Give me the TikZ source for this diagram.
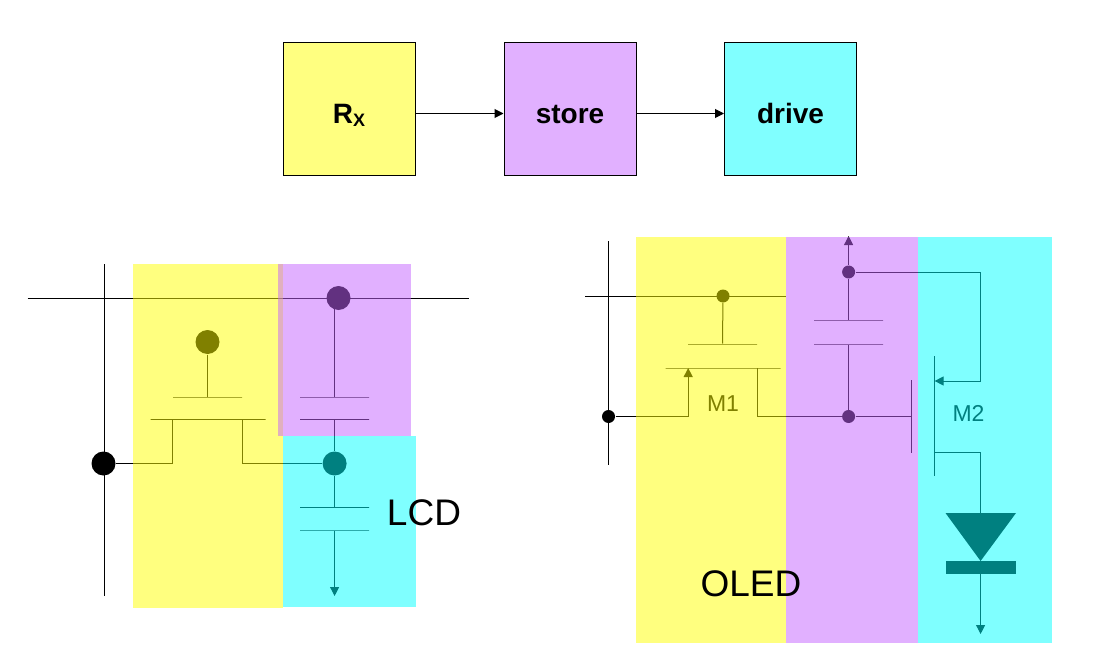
\documentclass[tikz,border=0pt]{standalone}
\usepackage{fontspec}
\setmainfont{Liberation Sans}
\usetikzlibrary{arrows.meta}
\definecolor{rxcol}{HTML}{FFFF00}
\definecolor{storecol}{HTML}{C462FF}
\definecolor{drivecol}{HTML}{00FFFF}
\begin{document}
\begin{tikzpicture}[x=1pt,y=-1pt,line width=1pt,>={Triangle[length=9pt,width=9pt]}]
	% `stage' is used for the three blocks on top, `tint' for the boxes laid over the circuits.
	\tikzstyle{stage} = [draw,minimum size=132pt,inner sep=0pt,text height=28pt,text depth=0pt,font=\fontsize{28}{28}\selectfont\bfseries]
	\tikzstyle{tint} = [opacity=0.5]
	\tikzstyle{bigdot} = [draw=none,fill,shape=circle,minimum size=24pt,inner sep=0pt]
	\tikzstyle{smalldot} = [draw=none,fill,shape=circle,minimum size=13pt,inner sep=0pt]
	\tikzstyle{plate} = [draw,minimum width=69pt,minimum height=0pt,inner sep=0pt]
	\tikzstyle{channel} = [draw,minimum width=115pt,minimum height=0pt,inner sep=0pt]
	\tikzstyle{big} = [anchor=base,font=\fontsize{37}{37}\selectfont]
	\tikzstyle{small} = [anchor=base,font=\fontsize{23}{23}\selectfont]
	\useasboundingbox (0,0) rectangle (1104,661);
	%
	% Blocks on top.
	\node[stage,fill=rxcol!50] (rx) at (349,109) {R\raisebox{-4pt}{\fontsize{18}{18}\selectfont X}};
	\node[stage,fill=storecol!50] (store) at (570,109) {store};
	\node[stage,fill=drivecol!50] (drive) at (790.5,109) {drive};
	\draw[->] ([yshift=-4.5pt]rx.east) -- ([yshift=-4.5pt]store.west);
	\draw[->] ([yshift=-4.5pt]store.east) -- ([yshift=-4.5pt]drive.west);
	%
	% LCD pixel.
	\coordinate (lcdcolT) at (104.6,264);
	\coordinate (lcdcolB) at (104.6,596);
	\coordinate (lcdrowL) at (27.5,298);
	\coordinate (lcdrowR) at (468.5,298);
	\coordinate (lcdcap) at (334.6,298);
	\coordinate (lcdgnd) at (334.6,596);
	\node[bigdot] (lcdrow) at (338.5,298) {};
	\node[bigdot] (lcdgate) at (207.5,342) {};
	\node[bigdot] (lcddata) at (103.5,463.5) {};
	\node[bigdot] (lcdpix) at (334.6,463.5) {};
	\node[plate] (lcdg) at (207.5,397) {};
	\node[channel] (lcdch) at (208,419.5) {};
	\node[plate] (cs1) at (334.6,397) {};
	\node[plate] (cs2) at (334.6,419.5) {};
	\node[plate] (clc1) at (334.6,507.5) {};
	\node[plate] (clc2) at (334.6,530) {};
	\coordinate (lcdS) at (172.6,419.5);
	\coordinate (lcdD) at (242.2,419.5);
	\draw (lcdcolT) -- (lcdcolB)  (lcdrowL) -- (lcdrowR);
	\draw (lcdgate) -- (lcdg);
	\draw (lcddata) -| (lcdS);
	\draw (lcdD) |- (lcdpix);
	\draw (lcdcap) -- (cs1)  (cs2) -- (lcdpix) -- (clc1);
	\draw[->] (clc2) -- (lcdgnd);
	%
	% OLED pixel.
	\coordinate (oledcolT) at (608.5,241);
	\coordinate (oledcolB) at (608.5,465);
	\coordinate (oledrowL) at (585,296);
	\coordinate (oledrowR) at (785.5,296);
	\coordinate (oledtop) at (848.6,236);
	\coordinate (m2gT) at (911.6,380);
	\coordinate (m2gB) at (911.6,453);
	\coordinate (m2T) at (934.6,356);
	\coordinate (m2B) at (934.6,476);
	\coordinate (m2S) at (934.6,381);
	\coordinate (m2D) at (934.6,452);
	\coordinate (m2gate) at (911.6,416.5);
	\coordinate (oledA) at (980.6,513);
	\coordinate (oledK) at (980.6,574);
	\coordinate (oledgnd) at (980.6,634);
	\coordinate (m1S) at (688.2,368);
	\coordinate (m1D) at (757.3,368);
	\node[smalldot] (oledgate) at (723,296) {};
	\node[smalldot] (oleddata) at (608.5,416.5) {};
	\node[smalldot] (oledvdd) at (848.6,272) {};
	\node[smalldot] (oledmid) at (848.6,416.5) {};
	\node[plate] (oledg) at (722.5,344) {};
	\node[channel] (oledch) at (723,368) {};
	\node[plate] (oledc1) at (848.6,320) {};
	\node[plate] (oledc2) at (848.6,344) {};
	\draw (oledcolT) -- (oledcolB)  (oledrowL) -- (oledrowR);
	\draw (oledgate) -- (oledg);
	\draw[->] (oleddata) -| (m1S);
	\draw (m1D) |- (oledmid) -- (m2gate);
	\draw (m2gT) -- (m2gB)  (m2T) -- (m2B);
	\draw[->] (oledvdd) -- (oledtop);
	\draw (oledvdd) -- (oledc1)  (oledc2) -- (oledmid);
	\draw[->] (oledvdd) -| (980.6,381) -- (m2S);
	\draw (m2D) -| (oledA);
	\fill (945.5,513) -- (1016,513) -- (980.6,561) -- cycle;
	\fill (945.5,561) rectangle (1016,574);
	\draw[->] (oledK) -- (oledgnd);
	\node[small] (m1) at (723,411.5) {M1};
	\node[small] (m2) at (968.5,421.5) {M2};
	%
	% Tinted boxes go over the circuits.
	\fill[tint,rxcol] (133,264) rectangle (283,608);
	\fill[tint,storecol] (278,264) rectangle (411,435.5);
	\fill[tint,drivecol] (283,435.5) rectangle (416,607);
	\fill[tint,rxcol] (636,237) rectangle (785.5,643);
	\fill[tint,storecol] (785.5,237) rectangle (918,643);
	\fill[tint,drivecol] (918,237) rectangle (1051.5,643);
	\node[big] (lcd) at (424,525) {LCD};
	\node[big] (oled) at (751,596) {OLED};
\end{tikzpicture}
\end{document}
